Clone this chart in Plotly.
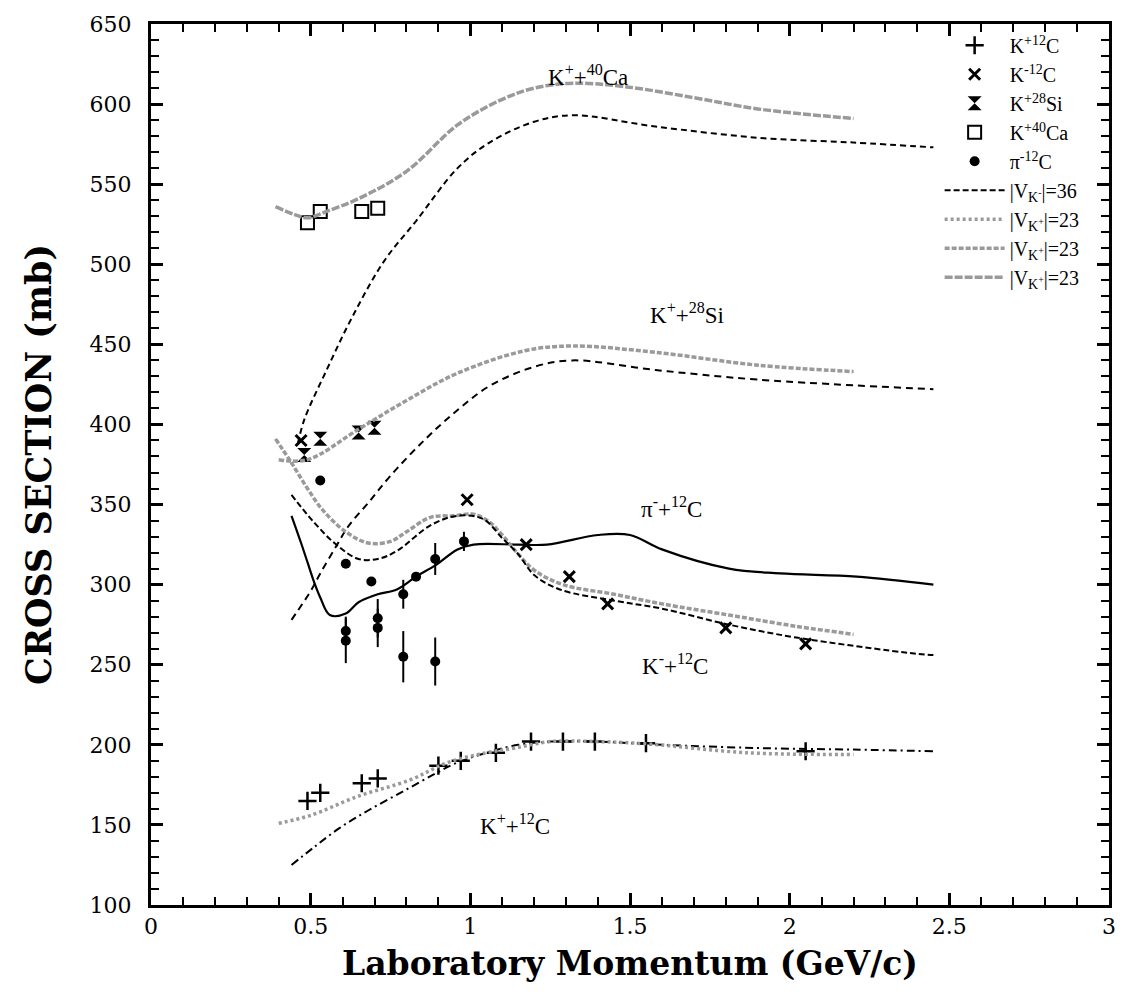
import plotly.graph_objects as go

# ---------------- data ----------------
# experimental points
kp12c_x = [0.49, 0.53, 0.66, 0.71, 0.90, 0.97, 1.08, 1.19, 1.29, 1.39, 1.55, 2.05]
kp12c_y = [165, 170, 176, 179, 187, 190, 195, 202, 202, 202, 201, 196]

km12c_x = [0.47, 0.99, 1.175, 1.31, 1.43, 1.80, 2.05]
km12c_y = [390, 353, 325, 305, 288, 273, 263]

kp28si_x = [0.48, 0.53, 0.65, 0.70]
kp28si_y = [381, 391, 395, 398]

kp40ca_x = [0.49, 0.53, 0.66, 0.71]
kp40ca_y = [526, 533, 533, 535]

pi12c_x = [0.53, 0.61, 0.69, 0.61, 0.61, 0.71, 0.71, 0.79, 0.89, 0.79, 0.83, 0.89, 0.98]
pi12c_y = [365, 313, 302, 271, 265, 279, 273, 255, 252, 294, 305, 316, 327]
pi12c_err = [0, 0, 0, 9, 14, 12, 12, 16, 15, 9, 0, 10, 6]

# theoretical curves
ca_gray_x = [0.39, 0.45, 0.49, 0.55, 0.65, 0.80, 0.96, 1.10, 1.20, 1.32, 1.48, 1.70, 1.90, 2.20]
ca_gray_y = [536, 531, 529, 533, 541, 558, 587, 603, 610, 613, 611, 604, 597, 591]

ca_dash_x = [0.46, 0.48, 0.55, 0.63, 0.73, 0.83, 0.96, 1.06, 1.20, 1.32, 1.58, 1.90, 2.20, 2.45]
ca_dash_y = [388, 403, 434, 467, 502, 527, 560, 576, 589, 593, 586, 579, 576, 573]

si_gray_x = [0.40, 0.49, 0.65, 0.80, 0.96, 1.17, 1.32, 1.58, 1.90, 2.20]
si_gray_y = [378, 378, 397, 415, 432, 446, 449, 445, 437, 433]

si_dash_x = [0.44, 0.50, 0.53, 0.58, 0.62, 0.68, 0.75, 0.86, 0.96, 1.06, 1.20, 1.32, 1.58, 1.90, 2.45]
si_dash_y = [278, 296, 307, 324, 337, 351, 368, 391, 409, 424, 436, 440, 434, 428, 422]

km_gray_x = [0.39, 0.44, 0.49, 0.54, 0.61, 0.68, 0.75, 0.80, 0.875, 0.95, 1.01, 1.06, 1.10, 1.15, 1.20, 1.29, 1.45, 1.60, 1.81, 2.02, 2.20]
km_gray_y = [391, 376, 360, 346, 333, 326, 327, 333, 342, 343, 344, 339, 331, 319, 309, 300, 294, 288, 281, 274, 269]

km_dash_x = [0.44, 0.51, 0.58, 0.65, 0.71, 0.77, 0.875, 0.96, 1.04, 1.10, 1.15, 1.20, 1.28, 1.45, 1.60, 1.81, 2.02, 2.39, 2.45]
km_dash_y = [356, 339, 325, 316, 316, 321, 337, 343, 341, 329, 319, 306, 297, 290, 285, 275, 267, 257, 256]

pi_line_x = [0.44, 0.47, 0.49, 0.51, 0.53, 0.56, 0.61, 0.65, 0.71, 0.77, 0.83, 0.89, 0.96, 1.01, 1.15, 1.24, 1.40, 1.50, 1.60, 1.81, 1.97, 2.21, 2.45]
pi_line_y = [343, 326, 314, 302, 292, 281, 282, 289, 294, 297, 305, 312, 322, 325, 325, 325, 331, 331, 322, 310, 307, 305, 300]

c_gray_x = [0.40, 0.50, 0.65, 0.81, 0.93, 1.05, 1.14, 1.25, 1.40, 1.56, 1.87, 2.20]
c_gray_y = [151, 156, 168, 178, 189, 195, 198, 202, 202, 200.5, 195, 194]

c_dash_x = [0.44, 0.51, 0.59, 0.68, 0.79, 0.89, 0.96, 1.05, 1.15, 1.25, 1.40, 1.60, 1.90, 2.20, 2.45]
c_dash_y = [125, 136, 148, 159, 171, 182, 189, 195, 200, 202, 202, 200, 198, 197, 196]

labels = [
    ("K<sup>+</sup>+<sup>40</sup>Ca", 1.37, 618),
    ("K<sup>+</sup>+<sup>28</sup>Si", 1.68, 469),
    ("π<sup>-</sup>+<sup>12</sup>C", 1.63, 348),
    ("K<sup>-</sup>+<sup>12</sup>C", 1.64, 250),
    ("K<sup>+</sup>+<sup>12</sup>C", 1.14, 150),
]

SERIF = "Liberation Serif, DejaVu Serif, serif"
WIDE = "DejaVu Serif, serif"
GRAY = "#9a9a9a"

fig = go.Figure()

# curves (not in legend)
fig.add_trace(go.Scatter(x=ca_dash_x, y=ca_dash_y, mode="lines", line=dict(color="black", width=2, dash="6px,4px"),
                         line_shape="spline", showlegend=False))
fig.add_trace(go.Scatter(x=si_dash_x, y=si_dash_y, mode="lines", line=dict(color="black", width=2, dash="7px,5px"),
                         line_shape="spline", showlegend=False))
fig.add_trace(go.Scatter(x=c_dash_x, y=c_dash_y, mode="lines", line=dict(color="black", width=2, dash="8px,4px,2px,4px"),
                         line_shape="spline", showlegend=False))
fig.add_trace(go.Scatter(x=pi_line_x, y=pi_line_y, mode="lines", line=dict(color="black", width=2.2),
                         line_shape="spline", showlegend=False))
fig.add_trace(go.Scatter(x=km_gray_x, y=km_gray_y, mode="lines", line=dict(color=GRAY, width=3.5, dash="5px,2px"),
                         line_shape="spline", showlegend=False))

# data points (legend)
fig.add_trace(go.Scatter(x=kp12c_x, y=kp12c_y, mode="markers", name="K<sup>+12</sup>C",
                         marker=dict(symbol="cross-thin", size=13, color="black", line=dict(color="black", width=2.5))))
fig.add_trace(go.Scatter(x=km12c_x, y=km12c_y, mode="markers", name="K<sup>-12</sup>C",
                         marker=dict(symbol="x-thin", size=11, color="black", line=dict(color="black", width=3))))
fig.add_trace(go.Scatter(x=kp28si_x, y=kp28si_y, mode="markers", name="K<sup>+28</sup>Si",
                         marker=dict(symbol="hourglass", size=14, color="black")))
fig.add_trace(go.Scatter(x=kp40ca_x, y=kp40ca_y, mode="markers", name="K<sup>+40</sup>Ca",
                         marker=dict(symbol="square-open", size=13, color="black", line=dict(color="black", width=2))))
fig.add_trace(go.Scatter(x=pi12c_x, y=pi12c_y, mode="markers+lines", name="π<sup>-12</sup>C",
                         line=dict(color="black", width=0),
                         marker=dict(symbol="circle", size=10, color="black"),
                         error_y=dict(type="data", array=pi12c_err, arrayminus=pi12c_err, thickness=2, width=0, color="black")))

# curves in legend
fig.add_trace(go.Scatter(x=km_dash_x, y=km_dash_y, mode="lines", name="|V<sub>K<sup>-</sup></sub>|=36",
                         line=dict(color="black", width=2, dash="6px,3px"), line_shape="spline"))
fig.add_trace(go.Scatter(x=c_gray_x, y=c_gray_y, mode="lines", name="|V<sub>K<sup>+</sup></sub>|=23",
                         line=dict(color=GRAY, width=3.5, dash="3px,3px"), line_shape="spline"))
fig.add_trace(go.Scatter(x=si_gray_x, y=si_gray_y, mode="lines", name="|V<sub>K<sup>+</sup></sub>|=23 ",
                         line=dict(color=GRAY, width=3.5, dash="5px,2px"), line_shape="spline"))
fig.add_trace(go.Scatter(x=ca_gray_x, y=ca_gray_y, mode="lines", name="|V<sub>K<sup>+</sup></sub>|=23  ",
                         line=dict(color=GRAY, width=3.5, dash="8px,2px"), line_shape="spline"))

for txt, lx, ly in labels:
    fig.add_annotation(x=lx, y=ly, text=txt, showarrow=False, xref="x", yref="y",
                       font=dict(family=SERIF, size=23, color="black"))

axis_common = dict(showline=True, linewidth=3, linecolor="black", mirror="ticks", ticks="inside",
                   tickwidth=2.5, tickcolor="black", showgrid=False, zeroline=False,
                   tickfont=dict(family=WIDE, size=22, color="black"))

fig.update_xaxes(range=[0, 3], tickmode="linear", tick0=0, dtick=0.5, ticklen=12,
                 minor=dict(dtick=0.1, ticklen=8, tickwidth=2, tickcolor="black", ticks="inside", showgrid=False),
                 title=dict(text="<b>Laboratory Momentum (GeV/c)</b>", font=dict(family=WIDE, size=33, color="black"),
                            standoff=14),
                 **axis_common)
fig.update_yaxes(range=[100, 650], tickmode="linear", tick0=100, dtick=50, ticklen=12, ticklabelstandoff=12,
                 minor=dict(dtick=10, ticklen=8, tickwidth=2, tickcolor="black", ticks="inside", showgrid=False),
                 title=dict(text="<b>CROSS SECTION (mb)</b>", font=dict(family=WIDE, size=35, color="black"),
                            standoff=28),
                 **axis_common)

fig.update_layout(
    width=1128, height=992,
    margin=dict(l=151, r=17, t=19, b=87),
    plot_bgcolor="white", paper_bgcolor="white",
    font=dict(family=SERIF, color="black"),
    legend=dict(x=0.985, y=0.998, xanchor="right", yanchor="top", bgcolor="rgba(0,0,0,0)",
                font=dict(family=SERIF, size=20, color="black"), tracegroupgap=0, itemwidth=60),
)

fig.write_html("out.html")
